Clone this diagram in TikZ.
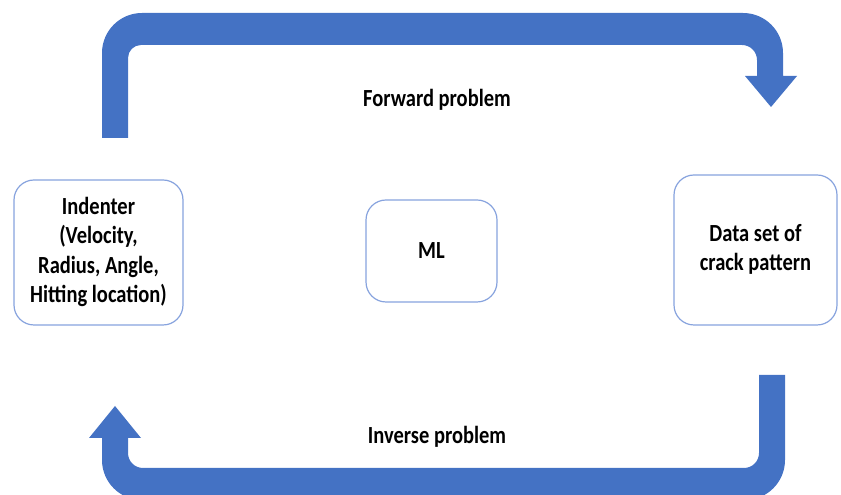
\documentclass[tikz,border=0pt]{standalone}
\usepackage{fontspec}
\setmainfont{Carlito}
\definecolor{arrowblue}{RGB}{68,114,196}
\definecolor{boxblue}{RGB}{135,163,222}
\newcommand\vstr[1]{\scalebox{1}[1.2]{#1}}
\tikzset{
  box/.style={draw=boxblue, line width=1.2pt, fill=white, rounded corners=20pt, align=center,
    font=\fontsize{20.5}{24.5}\selectfont\bfseries, text=black, inner sep=0pt},
  lbl/.style={font=\fontsize{20.5}{24.5}\selectfont\bfseries, text=black, inner sep=0pt},
  bigarrow/.style={fill=arrowblue, draw=none}
}
\begin{document}
\begin{tikzpicture}[x=1pt,y=1pt]
\useasboundingbox (0,0) rectangle (841,495);
\clip (0,0) rectangle (841,495);
% top arrow (forward)
\fill[arrowblue] (102,357) -- (102,442) arc[start angle=180,end angle=90,radius=40]
  -- (743,482) arc[start angle=90,end angle=0,radius=40]
  -- (783,419) -- (797,419) -- (771,388) -- (745,419) -- (757,419)
  -- (757,435) arc[start angle=0,end angle=90,radius=15]
  -- (141,450) arc[start angle=90,end angle=180,radius=13]
  -- (128,357) -- cycle;
% bottom arrow (inverse)
\fill[arrowblue] (759,120) -- (759,42) arc[start angle=0,end angle=-90,radius=15]
  -- (143,27) arc[start angle=270,end angle=180,radius=15]
  -- (128,57) -- (141,57) -- (115,89) -- (89,57) -- (102,57)
  -- (102,35) arc[start angle=180,end angle=270,radius=40]
  -- (745,-5) arc[start angle=270,end angle=360,radius=40]
  -- (785,120) -- cycle;
% boxes
\node[box, minimum width=169pt, minimum height=145pt] (ind) at (98.5,242.5)
  {\vstr{\begin{tabular}{@{}c@{}}Indenter\\(Velocity,\\Radius, Angle,\\Hitting location)\end{tabular}}};
\node[box, minimum width=131pt, minimum height=102pt] (ml) at (431.5,244) {\vstr{ML}};
\node[box, minimum width=163pt, minimum height=150pt] (data) at (755.5,245)
  {\vstr{\begin{tabular}{@{}c@{}}Data set of\\crack pattern\end{tabular}}};
% labels
\node[lbl] (fwd) at (437,395) {\vstr{Forward problem}};
\node[lbl] (inv) at (437,58) {\vstr{Inverse problem}};
\end{tikzpicture}
\end{document}
